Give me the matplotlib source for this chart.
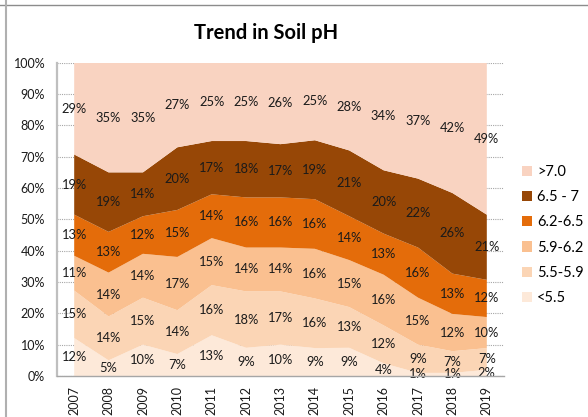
import numpy as np
import matplotlib.pyplot as plt
from matplotlib.lines import Line2D
from matplotlib.patches import Patch

plt.rcParams['font.family'] = ['Lato', 'DejaVu Sans']

anios = ['2007', '2008', '2009', '2010', '2011', '2012', '2013',
         '2014', '2015', '2016', '2017', '2018', '2019']

menor_55 = [12, 5, 10, 7, 13, 9, 10, 9, 9, 4, 1, 1, 2]
r55_59 = [15, 14, 15, 14, 16, 18, 17, 16, 13, 12, 9, 7, 7]
r59_62 = [11, 14, 14, 17, 15, 14, 14, 16, 15, 16, 15, 12, 10]
r62_65 = [13, 13, 12, 15, 14, 16, 16, 16, 14, 13, 16, 13, 12]
r65_7 = [19, 19, 14, 20, 17, 18, 17, 19, 21, 20, 22, 26, 21]
mayor_7 = [29, 35, 35, 27, 25, 25, 26, 25, 28, 34, 37, 42, 49]

nombres = ['<5.5', '5.5-5.9', '5.9-6.2', '6.2-6.5', '6.5 - 7', '>7.0']
colores = ['#FDE9D9', '#FBD5B5', '#FAC090', '#E46C0A', '#974706', '#F9D3C1']


def graficar():
    series = np.array([menor_55, r55_59, r59_62, r62_65, r65_7, mayor_7], dtype=float)
    # grafico de area 100% apilado: se normaliza cada anio
    normal = series / series.sum(axis=0) * 100
    x = np.arange(len(anios))

    fig = plt.figure(figsize=(5.88, 4.17), dpi=100)
    ax = fig.add_axes([57 / 588, 41 / 417, 447 / 588, 313.3 / 417])

    ax.stackplot(x, normal, colors=colores, linewidth=0, zorder=2)

    base = np.zeros(len(anios))
    for fila, valores in zip(normal, series):
        for i in range(len(anios)):
            ax.text(x[i], base[i] + fila[i] / 2, '%d%%' % valores[i],
                    ha='center', va='center', fontsize=9.3, color='#1a1a1a', zorder=3)
        base += fila

    ax.set_xlim(-0.5, len(anios) - 0.5)
    ax.set_ylim(0, 100)
    ax.set_yticks(np.arange(0, 101, 10))
    ax.set_yticklabels(['%d%%' % v for v in range(0, 101, 10)])
    ax.set_xticks(x)
    ax.set_xticklabels(anios, rotation=90)
    ax.tick_params(axis='both', length=0, labelsize=9, colors='#1a1a1a')
    ax.tick_params(axis='y', pad=8.5)
    ax.tick_params(axis='x', pad=7)

    ax.yaxis.grid(True, color='#A6A6A6', linestyle=(0, (1, 1)), linewidth=0.8, zorder=1)
    ax.set_axisbelow(True)
    for lado in ['top', 'right']:
        ax.spines[lado].set_visible(False)
    ax.spines['left'].set_color('#BFBFBF')
    ax.spines['left'].set_linewidth(1.6)
    ax.spines['bottom'].set_color('#A6A6A6')
    ax.spines['bottom'].set_linewidth(1.0)
    ax.spines['bottom'].set_zorder(4)

    fig.text(266 / 588, 1 - 33 / 417, 'Trend in Soil pH', ha='center', va='center',
             fontsize=14.5, fontweight='bold', color='black')

    manijas = [Patch(facecolor=c, edgecolor='none') for c in colores][::-1]
    fig.legend(manijas, nombres[::-1], loc='upper left',
               bbox_to_anchor=(522 / 588, 1 - 165 / 417), frameon=False,
               fontsize=10.5, handlelength=0.7, handleheight=0.7,
               handletextpad=0.35, labelspacing=0.77, borderaxespad=0,
               borderpad=0)

    # marco del grafico de excel
    fig.add_artist(Line2D([0, 1], [1 - 5 / 417, 1 - 5 / 417], color='#8c8c8c', lw=1.0))
    fig.add_artist(Line2D([6 / 588, 6 / 588], [0, 1], color='#b0b0b0', lw=1.5))

    fig.savefig('out.png', dpi=100)


if __name__ == '__main__':
    graficar()
